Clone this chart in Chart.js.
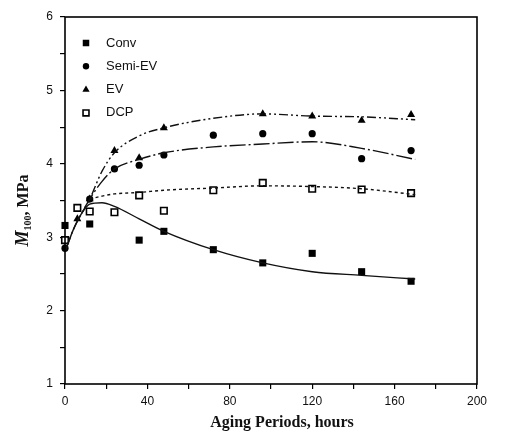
<!DOCTYPE html>
<html>
<head>
<meta charset="utf-8">
<script src="https://cdn.jsdelivr.net/npm/chart.js@4/dist/chart.umd.min.js"></script>
<style>
  html, body { margin: 0; padding: 0; background: #fff; }
  #wrap { width: 506px; height: 438px; position: relative; }
</style>
</head>
<body>
<div id="wrap"><canvas id="c" width="506" height="438"></canvas></div>
<script>
// ---- data ----
const seriesNames = ['Conv', 'Semi-EV', 'EV', 'DCP'];
const hours = [0, 6, 12, 24, 36, 48, 72, 96, 120, 144, 168];
const conv  = [3.16, null, 3.18, null, 2.96, 3.08, 2.83, 2.65, 2.78, 2.53, 2.40];
const semi  = [2.85, null, 3.52, 3.93, 3.98, 4.12, 4.39, 4.41, 4.41, 4.07, 4.18];
const ev    = [null, 3.25, 3.52, 4.18, 4.08, 4.49, null, 4.68, 4.65, 4.59, 4.67];
const dcp   = [2.96, 3.40, 3.35, 3.34, 3.57, 3.36, 3.64, 3.74, 3.66, 3.65, 3.60];

// fitted curves
const fitHours = [0, 4, 8, 12, 18, 24, 36, 48, 72, 96, 120, 144, 170];
const convFit = [2.80, 3.10, 3.32, 3.45, 3.47, 3.42, 3.25, 3.08, 2.83, 2.65, 2.53, 2.48, 2.43];
const semiFit = [2.80, 3.10, 3.32, 3.52, 3.76, 3.93, 4.06, 4.15, 4.23, 4.27, 4.30, 4.21, 4.06];
const evFit   = [null, null, 3.32, 3.52, 3.90, 4.15, 4.38, 4.49, 4.62, 4.68, 4.65, 4.64, 4.60];
const dcpFit  = [null, null, null, 3.52, 3.56, 3.59, 3.61, 3.64, 3.67, 3.70, 3.69, 3.66, 3.58];

const xTicks = [0, 40, 80, 120, 160, 200];
const yTicks = [1, 2, 3, 4, 5, 6];
const xTitle = 'Aging Periods, hours';

function pts(xs, ys) {
  const out = [];
  xs.forEach((x, i) => { if (ys[i] !== null) out.push({x: x, y: ys[i]}); });
  return out;
}

const markerStyles = [
  {pointStyle: 'rect', radius: 5, bg: '#000', bw: 0},
  {pointStyle: 'circle', radius: 3.6, bg: '#000', bw: 0},
  {pointStyle: 'triangle', radius: 4.6, bg: '#000', bw: 0},
  {pointStyle: 'rect', radius: 4.6, bg: '#fff', bw: 1.6}
];
const seriesVals = [conv, semi, ev, dcp];
const fitVals = [convFit, semiFit, evFit, dcpFit];
const dashes = [[], [16, 3, 2, 3], [9, 3, 2, 3, 2, 3], [3, 3]];

const datasets = [];
fitVals.forEach((f, i) => {
  datasets.push({
    label: seriesNames[i] + ' fit',
    data: pts(fitHours, f),
    showLine: true,
    borderColor: '#111',
    borderWidth: 1.4,
    borderDash: dashes[i],
    pointRadius: 0,
    cubicInterpolationMode: 'monotone',
    fill: false,
    clip: false
  });
});
seriesVals.forEach((v, i) => {
  const m = markerStyles[i];
  datasets.push({
    label: seriesNames[i],
    data: pts(hours, v),
    showLine: false,
    pointStyle: m.pointStyle,
    pointRadius: m.radius,
    pointBackgroundColor: m.bg,
    pointBorderColor: '#000',
    pointBorderWidth: m.bw,
    clip: false
  });
});

const decor = {
  id: 'decor',
  afterDraw(chart) {
    const ctx = chart.ctx;
    const a = chart.chartArea;
    ctx.save();
    // frame
    ctx.strokeStyle = '#000';
    ctx.lineWidth = 1.6;
    ctx.setLineDash([]);
    ctx.strokeRect(a.left, a.top, a.right - a.left, a.bottom - a.top);

    // legend
    const lx = a.left + 21, ly0 = a.top + 26, dy = 23.3;
    seriesNames.forEach((name, i) => {
      const m = markerStyles[i];
      const y = ly0 + i * dy;
      const r = m.radius - 0.4;
      ctx.fillStyle = m.bg;
      ctx.strokeStyle = '#000';
      ctx.lineWidth = m.bw;
      ctx.beginPath();
      if (m.pointStyle === 'circle') ctx.arc(lx, y, r, 0, Math.PI * 2);
      else if (m.pointStyle === 'triangle') {
        ctx.moveTo(lx, y - r); ctx.lineTo(lx + r * 0.866, y + r * 0.5); ctx.lineTo(lx - r * 0.866, y + r * 0.5); ctx.closePath();
      } else {
        const s = r * Math.SQRT1_2;
        ctx.rect(lx - s, y - s, 2 * s, 2 * s);
      }
      ctx.fill();
      if (m.bw) ctx.stroke();
      ctx.fillStyle = '#111';
      ctx.font = '13px "Liberation Sans", Arial, sans-serif';
      ctx.textAlign = 'left';
      ctx.textBaseline = 'middle';
      ctx.fillText(name, lx + 20, y);
    });

    // x title
    ctx.fillStyle = '#111';
    ctx.font = 'bold 16px "Liberation Serif", "Times New Roman", serif';
    ctx.textAlign = 'center';
    ctx.textBaseline = 'middle';
    ctx.fillText(xTitle, (a.left + a.right) / 2 + 11, 423);

    // y title: M(100), MPa
    ctx.translate(22, (a.top + a.bottom) / 2 + 10);
    ctx.rotate(-Math.PI / 2);
    const fM = 'bold italic 18px "Liberation Serif", serif';
    const fS = 'bold 10px "Liberation Serif", serif';
    const fR = 'bold 16px "Liberation Serif", serif';
    ctx.font = fM; const wM = ctx.measureText('M').width;
    ctx.font = fS; const wS = ctx.measureText('100').width;
    ctx.font = fR; const wR = ctx.measureText(', MPa').width;
    let x = -(wM + wS + wR) / 2;
    ctx.textAlign = 'left';
    ctx.textBaseline = 'alphabetic';
    ctx.font = fM; ctx.fillText('M', x, 6); x += wM;
    ctx.font = fS; ctx.fillText('100', x, 9); x += wS;
    ctx.font = fR; ctx.fillText(', MPa', x, 6);
    ctx.restore();
  }
};

new Chart(document.getElementById('c'), {
  type: 'scatter',
  data: { datasets: datasets },
  options: {
    responsive: false,
    animation: false,
    devicePixelRatio: 1,
    layout: { padding: { top: 17, right: 29, left: 0, bottom: 0 } },
    plugins: { legend: { display: false }, tooltip: { enabled: false } },
    scales: {
      x: {
        type: 'linear',
        min: 0, max: 200,
        afterFit(s) { s.height = 54; },
        afterBuildTicks(s) { s.ticks = []; for (let v = 0; v <= 200; v += 20) s.ticks.push({value: v}); },
        ticks: {
          autoSkip: false,
          maxRotation: 0,
          padding: 5,
          color: '#111',
          font: { family: '"Liberation Sans", Arial, sans-serif', size: 12 },
          callback: (v) => xTicks.includes(v) ? String(v) : ''
        },
        grid: { drawOnChartArea: false, tickLength: 5, color: '#000', lineWidth: 1.2 },
        border: { display: false }
      },
      y: {
        type: 'linear',
        min: 1, max: 6,
        afterFit(s) { s.width = 65; },
        afterBuildTicks(s) { s.ticks = []; for (let v = 1; v <= 6.001; v += 0.5) s.ticks.push({value: v}); },
        ticks: {
          autoSkip: false,
          padding: 7,
          color: '#111',
          font: { family: '"Liberation Sans", Arial, sans-serif', size: 12 },
          callback: (v) => yTicks.includes(v) ? String(v) : ''
        },
        grid: { drawOnChartArea: false, tickLength: 5, color: '#000', lineWidth: 1.2 },
        border: { display: false }
      }
    }
  },
  plugins: [decor]
});
</script>
</body>
</html>
